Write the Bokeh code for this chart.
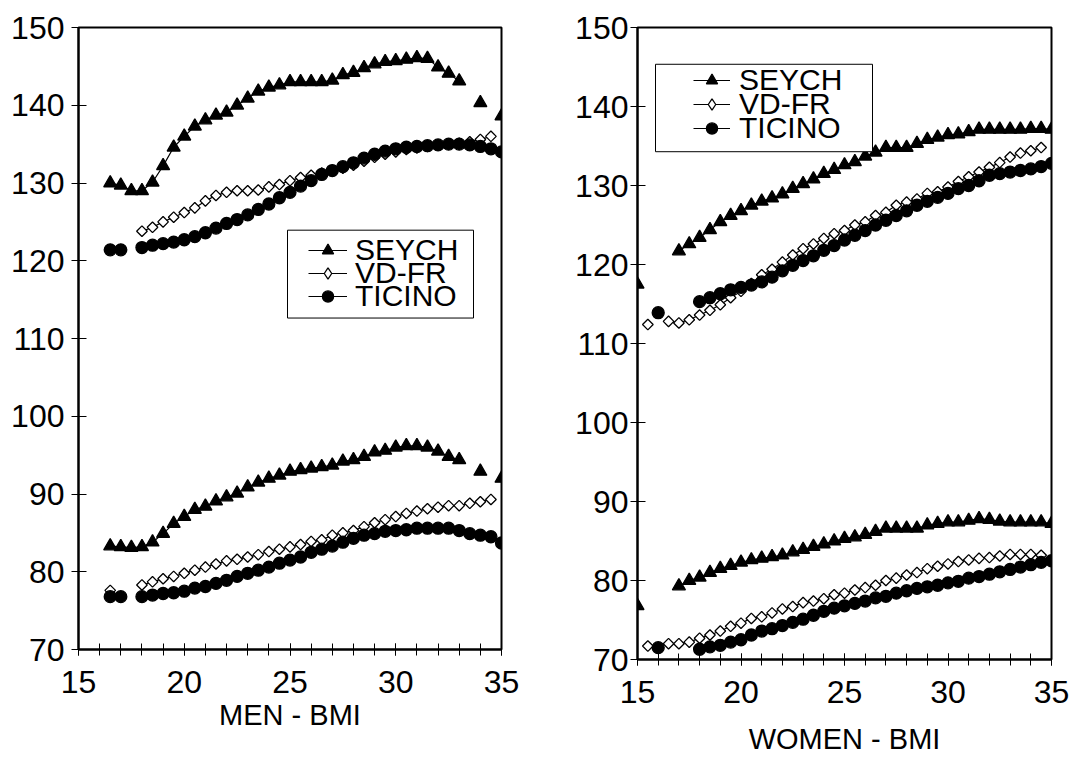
import numpy as np
from bokeh.plotting import figure
from bokeh.layouts import row
from bokeh.models import SingleIntervalTicker, Legend, LegendItem, ColumnDataSource, BoxAnnotation
from bokeh.embed import file_html
from bokeh.resources import INLINE

N = None
BMI = [15.0, 15.5, 16.0, 16.5, 17.0, 17.5, 18.0, 18.5, 19.0, 19.5, 20.0, 20.5, 21.0, 21.5,
       22.0, 22.5, 23.0, 23.5, 24.0, 24.5, 25.0, 25.5, 26.0, 26.5, 27.0, 27.5, 28.0, 28.5,
       29.0, 29.5, 30.0, 30.5, 31.0, 31.5, 32.0, 32.5, 33.0, 33.5, 34.0, 34.5, 35.0]

SERIES = ["SEYCH", "VD-FR", "TICINO"]

# ---- MEN ----
men_seych_upper = [N, N, N, 130.0, 129.7, 129.0, 129.0, 130.1, 132.2, 134.6, 136.0, 137.3, 138.1, 138.7,
                   139.1, 140.0, 140.9, 141.8, 142.3, 142.6, 143.0, 143.0, 143.0, 143.0, 143.2, 143.9,
                   144.2, 144.8, 145.3, 145.6, 145.7, 145.9, 146.1, 146.0, 144.9, 144.1, 143.1, N, 140.3, N, 138.6]
men_seych_lower = [N, N, N, 83.3, 83.2, 83.1, 83.2, 83.8, 84.9, 86.2, 87.1, 88.0, 88.4, 89.1,
                   89.6, 90.1, 90.9, 91.5, 92.0, 92.4, 92.9, 93.1, 93.3, 93.5, 93.7, 94.2,
                   94.4, 94.8, 95.4, 95.6, 96.0, 96.2, 96.2, 96.0, 95.5, 94.8, 94.4, N, 92.9, N, 92.0]
men_vdfr_upper = [N, N, N, N, N, N, 123.8, 124.3, 125.0, 125.6, 126.2, 126.8, 127.7, 128.4,
                  128.8, 129.0, 129.0, 129.1, 129.5, 129.8, 130.3, 130.7, 131.0, 131.3, 131.6, 131.9,
                  132.3, 132.8, 133.3, 133.7, 134.0, 134.3, 134.5, 134.7, 134.9, 135.0, 135.1, 135.3, 135.6, 136.0, N]
men_vdfr_lower = [N, N, N, 77.6, N, N, 78.3, 78.7, 79.1, 79.4, 79.8, 80.2, 80.6, 81.0,
                  81.4, 81.6, 81.9, 82.2, 82.6, 82.9, 83.2, 83.5, 83.9, 84.1, 84.7, 85.0,
                  85.3, 85.8, 86.3, 86.7, 87.1, 87.5, 87.8, 88.1, 88.3, 88.5, 88.5, 88.8, 89.0, 89.3, N]
men_ticino_upper = [N, N, N, 121.4, 121.4, N, 121.7, 122.0, 122.2, 122.4, 122.7, 123.1, 123.6, 124.2,
                    124.8, 125.3, 125.9, 126.6, 127.3, 128.1, 128.8, 129.6, 130.3, 131.1, 131.6, 132.1,
                    132.6, 133.2, 133.7, 134.1, 134.4, 134.6, 134.7, 134.8, 134.9, 135.0, 135.0, 134.9, 134.7, 134.4, 134.0]
men_ticino_lower = [N, N, N, 76.8, 76.8, N, 76.8, 77.0, 77.2, 77.3, 77.5, 77.9, 78.1, 78.5,
                    78.9, 79.4, 79.8, 80.2, 80.6, 81.1, 81.5, 81.9, 82.5, 82.9, 83.3, 83.8,
                    84.3, 84.7, 84.9, 85.2, 85.3, 85.4, 85.6, 85.6, 85.6, 85.6, 85.3, 84.9, 84.7, 84.5, 83.7]

# ---- WOMEN ----
women_seych_upper = [117.5, N, N, N, 121.7, 122.6, 123.4, 124.4, 125.4, 126.2, 126.8, 127.5, 128.0, 128.4,
                     128.9, 129.6, 130.2, 130.8, 131.5, 132.0, 132.6, 133.0, 133.7, 134.2, 134.8, 134.8,
                     134.8, 135.3, 135.8, 136.1, 136.4, 136.5, 136.8, 137.1, 137.1, 137.1, 137.1, 137.1, 137.2, 137.2, 137.1]
women_seych_lower = [76.8, N, N, N, 79.3, 80.0, 80.4, 81.0, 81.5, 81.9, 82.3, 82.6, 82.8, 83.0,
                     83.2, 83.6, 83.9, 84.3, 84.6, 85.0, 85.3, 85.5, 85.8, 86.2, 86.6, 86.6,
                     86.6, 86.6, 87.0, 87.2, 87.4, 87.4, 87.6, 87.8, 87.7, 87.5, 87.4, 87.4, 87.4, 87.4, 87.2]
women_vdfr_upper = [N, 112.4, N, 112.8, 112.6, 113.0, 113.6, 114.2, 114.9, 115.8, 116.6, 117.6, 118.7, 119.4,
                    120.3, 121.2, 122.0, 122.6, 123.3, 123.9, 124.3, 125.0, 125.4, 126.2, 126.6, 127.5,
                    127.9, 128.3, 129.0, 129.2, 129.8, 130.5, 131.1, 131.7, 132.3, 132.9, 133.6, 134.1, 134.4, 134.8, N]
women_vdfr_lower = [N, 71.7, N, 72.0, 72.0, 72.2, 72.7, 73.1, 73.6, 74.2, 74.6, 75.2, 75.4, 75.9,
                    76.4, 76.7, 77.2, 77.4, 77.7, 78.2, 78.4, 78.8, 79.1, 79.4, 80.0, 80.3,
                    80.7, 81.0, 81.5, 81.8, 82.1, 82.4, 82.6, 82.8, 82.9, 83.1, 83.3, 83.3, 83.3, 83.2, N]
women_ticino_upper = [N, N, 113.9, N, N, N, 115.3, 115.8, 116.3, 116.8, 117.1, 117.4, 117.8, 118.4,
                      119.2, 119.9, 120.5, 121.1, 121.8, 122.4, 123.1, 123.7, 124.3, 125.0, 125.6, 126.2,
                      126.8, 127.5, 128.0, 128.5, 129.0, 129.6, 130.0, 130.6, 131.3, 131.5, 131.7, 131.9, 132.1, 132.4, 132.8]
women_ticino_lower = [N, N, 71.5, N, N, N, 71.3, 71.6, 71.8, 72.2, 72.5, 73.1, 73.6, 73.9,
                      74.3, 74.7, 75.1, 75.6, 76.1, 76.5, 76.8, 77.1, 77.4, 77.8, 78.0, 78.4,
                      78.7, 79.0, 79.2, 79.4, 79.7, 79.9, 80.3, 80.5, 80.8, 81.1, 81.4, 81.7, 82.0, 82.3, 82.5]

FONT = "Liberation Sans"
STYLE = {
    "SEYCH": dict(marker="triangle", size=13, fill_color="black", angle=0.0, legend_marker="triangle"),
    "VD-FR": dict(marker="square", size=7.5, fill_color="white", angle=np.pi / 4, legend_marker="diamond"),
    "TICINO": dict(marker="circle", size=12, fill_color="black", angle=0.0, legend_marker="circle"),
}


def arr(v):
    return np.array([np.nan if a is None else a for a in v], dtype=float)


def make_panel(title, data, width, height, mb, frame, ylab_standoff, title_standoff, leg):
    # frame = (left_px, top_px, width_px, height_px) in page pixels
    fl, ft, fw, fh = frame
    p = figure(width=width, height=height, x_range=(15, 35), y_range=(70, 150),
               output_backend="svg", toolbar_location=None,
               min_border_left=mb[0], min_border_right=mb[1],
               min_border_top=mb[2], min_border_bottom=mb[3])
    p.grid.visible = False
    p.outline_line_color = "black"
    p.outline_line_width = 2
    p.background_fill_color = "white"
    p.border_fill_color = "white"

    xa = p.xaxis[0]
    xa.ticker = SingleIntervalTicker(interval=5, num_minor_ticks=5)
    xa.axis_label = title
    xa.axis_label_text_font = FONT
    xa.axis_label_text_font_size = "29px"
    xa.axis_label_text_font_style = "normal"
    xa.axis_label_text_color = "black"
    xa.axis_label_standoff = title_standoff
    xa.major_label_text_font = FONT
    xa.major_label_text_font_size = "32px"
    xa.major_label_text_color = "black"
    xa.major_label_standoff = 15
    xa.axis_line_width = 2
    xa.major_tick_in = 6
    xa.major_tick_out = 6
    xa.minor_tick_in = 6
    xa.minor_tick_out = 6
    xa.major_tick_line_width = 1
    xa.minor_tick_line_width = 1

    ya = p.yaxis[0]
    ya.ticker = SingleIntervalTicker(interval=10, num_minor_ticks=0)
    ya.major_label_text_font = FONT
    ya.major_label_text_font_size = "32px"
    ya.major_label_text_color = "black"
    ya.major_label_standoff = ylab_standoff
    ya.axis_line_width = 2
    ya.major_tick_in = 8
    ya.major_tick_out = 7
    ya.major_tick_line_width = 1

    # legend box (white, black border), placed from page-pixel targets
    bx0, by0, bx1, by1 = leg["box"]
    px2x = lambda px: 15 + (px - fl) * 20.0 / fw
    py2y = lambda py: 70 + (ft + fh - py) * 80.0 / fh
    box = BoxAnnotation(left=px2x(bx0), right=px2x(bx1), top=py2y(by0), bottom=py2y(by1),
                        fill_color="white", fill_alpha=1.0, line_color="black", line_width=1,
                        line_alpha=1.0)

    x = np.array(BMI)
    legend_items = []
    for name in SERIES:
        st = STYLE[name]
        first = None
        for vals in data[name]:
            src = ColumnDataSource(dict(x=x, y=arr(vals)))
            lr = p.line("x", "y", source=src, line_color="black", line_width=1.2)
            p.scatter("x", "y", source=src, marker=st["marker"], size=st["size"],
                      fill_color=st["fill_color"], line_color="black",
                      line_width=1.3, angle=st["angle"])
            if first is None:
                lg = p.scatter("x", "y", source=src, marker=st["legend_marker"],
                               fill_color=st["fill_color"], line_color="black", line_width=1.3)
                lg.visible = False
                first = [lr, lg]
        legend_items.append(LegendItem(label=name, renderers=first))

    p.add_layout(box, "center")
    # one legend per row so the rows can sit as tightly as in the original
    gx = leg["glyph_x"] - fl
    for item, cy in zip(legend_items, leg["rows"]):
        lgd = Legend(items=[item], location=(gx, ft + fh - (cy + 17)), orientation="vertical",
                     label_text_font=FONT, label_text_font_size="30px", label_text_color="black",
                     label_standoff=leg["standoff"], glyph_width=leg["gw"], glyph_height=28,
                     label_height=28, spacing=0, padding=0, margin=0,
                     border_line_color=None, background_fill_alpha=0.0, click_policy="none")
        p.add_layout(lgd, "center")
    return p


men = {
    "SEYCH": [men_seych_upper, men_seych_lower],
    "VD-FR": [men_vdfr_upper, men_vdfr_lower],
    "TICINO": [men_ticino_upper, men_ticino_lower],
}
women = {
    "SEYCH": [women_seych_upper, women_seych_lower],
    "VD-FR": [women_vdfr_upper, women_vdfr_lower],
    "TICINO": [women_ticino_upper, women_ticino_lower],
}

# left panel: frame x 78..501, y 26..649 (page pixels)
p1 = make_panel("MEN - BMI", men, 560, 759, (78, 59, 26, 110), (78, 26, 423, 623), 7, 3,
                dict(box=(287, 229, 473, 317), glyph_x=308, gw=39, standoff=8, rows=(250, 273, 296)))
# right panel: frame x 637..1051, y 27..663 (page pixels)
p2 = make_panel("WOMEN - BMI", women, 509, 769, (77, 18, 27, 106), (637, 27, 414, 636), 2, 17,
                dict(box=(655, 64, 872, 152), glyph_x=693, gw=37, standoff=9, rows=(84, 108, 132)))

layout = row(p1, p2)
open("out.html", "w").write(file_html(layout, INLINE))
